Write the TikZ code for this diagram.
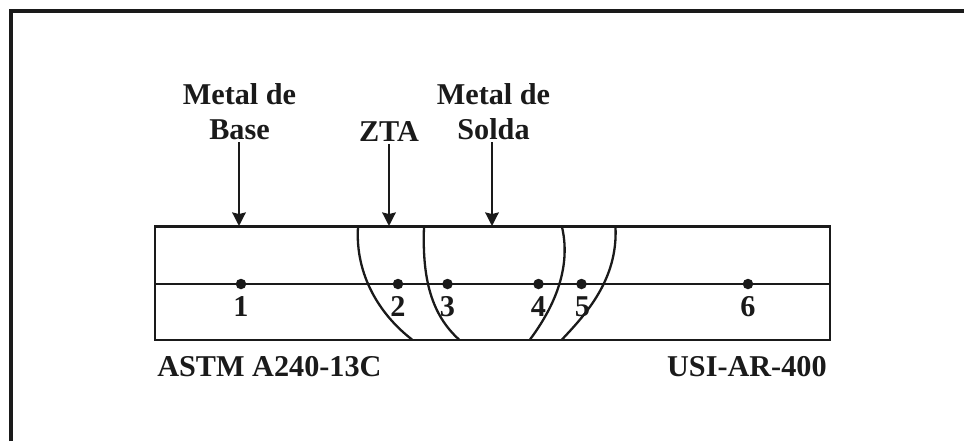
\documentclass[tikz,border=0pt]{standalone}
\usepackage{fontspec}
\setmainfont{Liberation Serif}
\usetikzlibrary{arrows.meta}
\definecolor{tinta}{HTML}{1A1A1A}
\tikzset{
    rotulo/.style={font=\bfseries\fontsize{17.2}{19.9}\selectfont,text=tinta,inner sep=0pt,align=center},
    numero/.style={rotulo,anchor=base},
    ponto/.style={circle,fill=tinta,inner sep=0pt,minimum size=0.21cm},
    linha/.style={draw=tinta,line width=0.046cm},
    seta/.style={linha,shorten >=0pt,shorten <=0.04cm,-{Stealth[length=0.27cm,width=0.27cm,inset=0.03cm]}}
}
\begin{document}
\begin{tikzpicture}
    \useasboundingbox (0,0) rectangle (19.28,8.82);
    \coordinate (q1) at (0.216,0);
    \coordinate (q2) at (0.216,8.594);
    \coordinate (q3) at (19.28,8.594);
    \draw[tinta,line width=0.08cm] (q1)--(q2)--(q3);
    \coordinate (b1) at (3.10,2.02);
    \coordinate (b2) at (16.60,4.29);
    \coordinate (m1) at (3.10,3.14);
    \coordinate (m2) at (16.60,3.14);
    \draw[linha] (b1) rectangle (b2);
    \draw[linha] (m1)--(m2);
    \coordinate (a1) at (7.16,4.28);
    \coordinate (a2) at (8.24,2.03);
    \coordinate (c1) at (8.48,4.28);
    \coordinate (c2) at (9.18,2.03);
    \coordinate (d1) at (11.24,4.28);
    \coordinate (d2) at (10.60,2.03);
    \coordinate (e1) at (12.31,4.28);
    \coordinate (e2) at (11.24,2.03);
    \draw[linha] (a1) .. controls (7.10,3.32) and (7.60,2.52) .. (a2);
    \draw[linha] (c1) .. controls (8.44,3.22) and (8.64,2.52) .. (c2);
    \draw[linha] (d1) .. controls (11.44,3.42) and (11.04,2.62) .. (d2);
    \draw[linha] (e1) .. controls (12.36,3.22) and (11.70,2.52) .. (e2);
    \node[ponto] (p1) at (4.82,3.14){};
    \node[ponto] (p2) at (7.96,3.14){};
    \node[ponto] (p3) at (8.95,3.14){};
    \node[ponto] (p4) at (10.77,3.14){};
    \node[ponto] (p5) at (11.63,3.14){};
    \node[ponto] (p6) at (14.96,3.14){};
    \node[numero] (n1) at (4.82,2.50){1};
    \node[numero] (n2) at (7.96,2.50){2};
    \node[numero] (n3) at (8.95,2.50){3};
    \node[numero] (n4) at (10.77,2.50){4};
    \node[numero] (n5) at (11.65,2.50){5};
    \node[numero] (n6) at (14.96,2.50){6};
    \node[rotulo,anchor=south] (mbase) at (4.79,6.02){Metal de \\ Base};
    \node[rotulo,anchor=south] (zta) at (7.78,5.985){ZTA};
    \node[rotulo,anchor=south] (msolda) at (9.87,6.02){Metal de \\ Solda};
    \node[rotulo,anchor=base west] (astm) at (3.14,1.30){ASTM A240-13C};
    \node[rotulo,anchor=base east] (usi) at (16.54,1.30){USI-AR-400};
    \coordinate (t1) at (4.78,4.30);
    \coordinate (t2) at (7.78,4.30);
    \coordinate (t3) at (9.84,4.30);
    \draw[seta] (mbase.south -| t1)--(t1);
    \draw[seta] (zta.south -| t2)--(t2);
    \draw[seta] (msolda.south -| t3)--(t3);
\end{tikzpicture}
\end{document}
